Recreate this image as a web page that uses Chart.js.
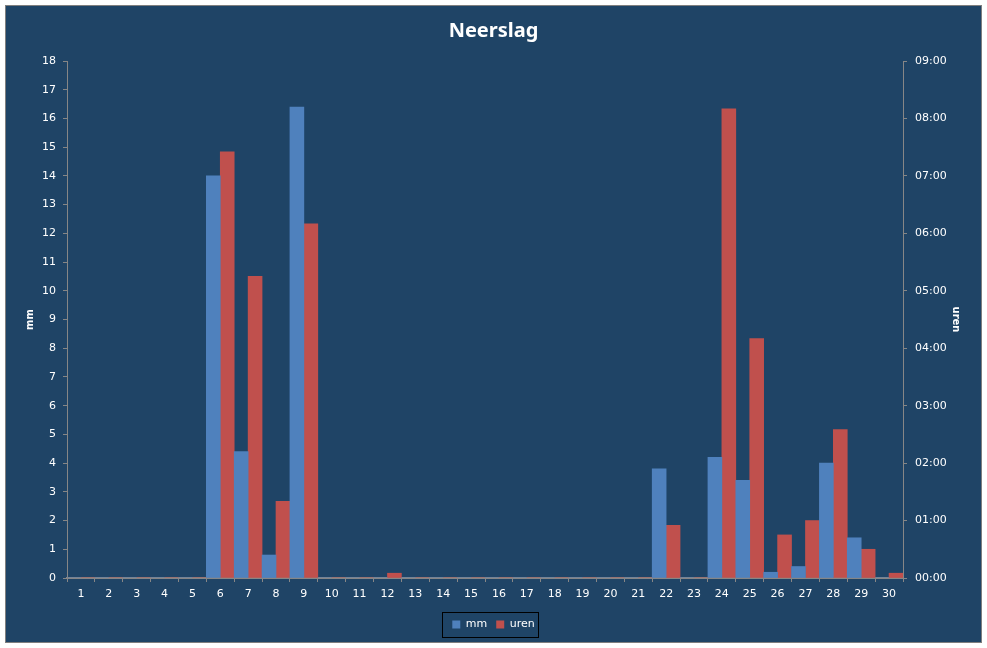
<!DOCTYPE html>
<html>
<head>
<meta charset="utf-8">
<script src="https://cdn.jsdelivr.net/npm/chart.js@4"></script>
<style>
  body { margin: 0; background: #fff; }
</style>
</head>
<body>
<canvas id="myChart" width="987" height="648"></canvas>
<script>
const days = ['1', '2', '3', '4', '5', '6', '7', '8', '9', '10', '11', '12', '13', '14', '15',
  '16', '17', '18', '19', '20', '21', '22', '23', '24', '25', '26', '27', '28', '29', '30'];
// neerslag in mm per dag
const mm = [0, 0, 0, 0, 0, 14.0, 4.4, 0.8, 16.4, 0, 0, 0, 0, 0, 0,
  0, 0, 0, 0, 0, 0, 3.8, 0, 4.2, 3.4, 0.2, 0.4, 4.0, 1.4, 0];
// duur van de neerslag in minuten
const urenMin = [0, 0, 0, 0, 0, 445, 315, 80, 370, 0, 0, 5, 0, 0, 0,
  0, 0, 0, 0, 0, 0, 55, 0, 490, 250, 45, 60, 155, 30, 5];
const mmTicks = {min: 0, max: 18, step: 1};
const urenTicks = {min: 0, max: 540, step: 60};

const BG = '#1F4466';
const AXIS = '#868686';
const tickFont = {family: 'DejaVu Sans', size: 11};

const hhmm = function(v) {
  const h = Math.floor(v / 60);
  const m = v % 60;
  return String(h).padStart(2, '0') + ':' + String(m).padStart(2, '0');
};

// achtergrond met kader
const framePlugin = {
  id: 'frame',
  beforeDraw(chart) {
    const ctx = chart.ctx;
    ctx.save();
    ctx.fillStyle = '#ffffff';
    ctx.fillRect(0, 0, chart.width, chart.height);
    ctx.fillStyle = BG;
    ctx.fillRect(5, 5, chart.width - 10, chart.height - 10);
    ctx.strokeStyle = '#7f7f7f';
    ctx.lineWidth = 1;
    ctx.strokeRect(5.5, 5.5, chart.width - 11, chart.height - 11);
    ctx.restore();
  },
  afterDraw(chart) {
    // kader om de legenda
    const boxes = chart.legend.legendHitBoxes;
    if (!boxes || !boxes.length) return;
    const first = boxes[0];
    const last = boxes[boxes.length - 1];
    const ctx = chart.ctx;
    ctx.save();
    ctx.strokeStyle = '#000000';
    ctx.lineWidth = 1;
    const x0 = Math.round(first.left - 10) + 0.5;
    const x1 = Math.round(last.left + last.width + 3) + 0.5;
    const y0 = Math.round(first.top - 7) + 0.5;
    const y1 = Math.round(first.top + first.height + 7) + 0.5;
    ctx.strokeRect(x0, y0, x1 - x0, y1 - y0);
    ctx.restore();
  },
};

const $ctx = document.getElementById('myChart');
const myChart = new Chart($ctx, {
  type: 'bar',
  data: {
    labels: days,
    datasets: [
      {
        label: 'mm',
        data: mm,
        backgroundColor: '#4F81BD',
        borderWidth: 0,
        yAxisID: 'y',
        categoryPercentage: 1.0,
        barPercentage: 1.0,
      },
      {
        label: 'uren',
        data: urenMin,
        backgroundColor: '#C0504D',
        borderWidth: 0,
        yAxisID: 'y2',
        categoryPercentage: 1.0,
        barPercentage: 1.0,
      },
    ],
  },
  options: {
    responsive: false,
    animation: false,
    devicePixelRatio: 1,
    layout: {padding: {left: 22, right: 22, top: 19, bottom: 8}},
    plugins: {
      title: {
        display: true,
        text: 'Neerslag',
        color: '#ffffff',
        font: {family: 'Noto Sans', size: 20, weight: 'bold', lineHeight: 1.2},
        padding: {top: 0, bottom: 18},
      },
      legend: {
        position: 'bottom',
        labels: {
          color: '#ffffff',
          font: {family: 'DejaVu Sans', size: 11},
          boxWidth: 8,
          boxHeight: 8,
          padding: 9,
        },
      },
      tooltip: {enabled: false},
    },
    scales: {
      x: {
        offset: true,
        grid: {display: true, drawOnChartArea: false, drawTicks: true, tickLength: 4, color: AXIS, offset: true},
        border: {color: AXIS, width: 2},
        ticks: {color: '#ffffff', font: tickFont, padding: 6, maxRotation: 0, autoSkip: false},
        afterFit(scale) { scale.height = 32; },
      },
      y: {
        position: 'left',
        min: mmTicks.min,
        max: mmTicks.max,
        grid: {display: true, drawOnChartArea: false, drawTicks: true, tickLength: 4, color: AXIS},
        border: {color: AXIS, width: 1},
        ticks: {color: '#ffffff', font: tickFont, stepSize: mmTicks.step, padding: 7},
        title: {display: true, text: 'mm', color: '#ffffff', font: {family: 'DejaVu Sans', size: 10, weight: 'bold'}, padding: {top: 2, bottom: 0}},
        afterFit(scale) { scale.width = 45; },
      },
      y2: {
        position: 'right',
        min: urenTicks.min,
        max: urenTicks.max,
        grid: {display: true, drawOnChartArea: false, drawTicks: true, tickLength: 4, color: AXIS},
        border: {color: AXIS, width: 1},
        ticks: {color: '#ffffff', font: tickFont, stepSize: urenTicks.step, padding: 8, callback: (v) => hhmm(v)},
        title: {display: true, text: 'uren', color: '#ffffff', font: {family: 'DejaVu Sans', size: 10, weight: 'bold'}, padding: {top: 3, bottom: 0}},
        afterFit(scale) { scale.width = 62; },
      },
    },
  },
  plugins: [framePlugin],
});
</script>
</body>
</html>
